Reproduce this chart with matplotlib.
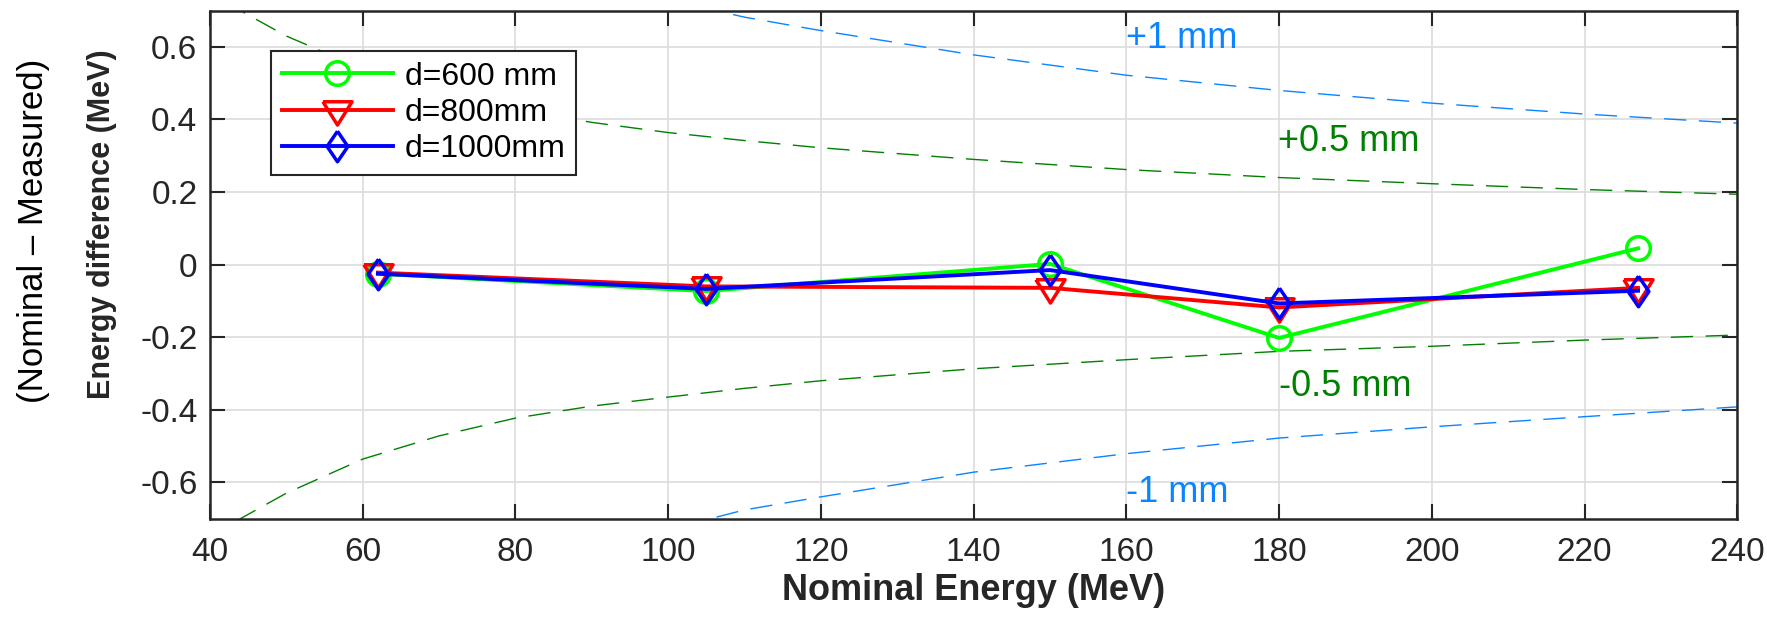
import numpy as np
import matplotlib
matplotlib.use("Agg")
from matplotlib import pyplot as plt

plt.rcParams["font.family"] = ["Liberation Sans", "DejaVu Sans"]

# measured points
energy = [62, 105, 150, 180, 227]
diff_600 = [-0.025, -0.073, 0.002, -0.202, 0.045]
diff_800 = [-0.022, -0.060, -0.064, -0.118, -0.064]
diff_1000 = [-0.025, -0.067, -0.015, -0.107, -0.072]

# reference bands (+/-0.5 mm and +/-1 mm range error)
band_e = [40, 44, 50, 60, 70, 80, 90, 100, 110, 120, 140, 160, 180, 200, 220, 240]
plus_half = [0.78, 0.70, 0.63, 0.54, 0.477, 0.428, 0.392, 0.364, 0.342, 0.322, 0.290, 0.262, 0.240, 0.223, 0.207, 0.194]
minus_half = [-0.77, -0.70, -0.63, -0.536, -0.472, -0.423, -0.390, -0.365, -0.341, -0.320, -0.287, -0.262, -0.239, -0.225, -0.208, -0.194]
plus_one = [1.56, 1.40, 1.26, 1.08, 0.955, 0.86, 0.79, 0.73, 0.682, 0.645, 0.578, 0.522, 0.480, 0.445, 0.415, 0.390]
minus_one = [-1.54, -1.40, -1.26, -1.07, -0.95, -0.86, -0.79, -0.73, -0.676, -0.640, -0.572, -0.521, -0.478, -0.447, -0.419, -0.392]

xticks = [40, 60, 80, 100, 120, 140, 160, 180, 200, 220, 240]
yticks = [-0.6, -0.4, -0.2, 0, 0.2, 0.4, 0.6]
ytick_labels = ["-0.6", "-0.4", "-0.2", "0", "0.2", "0.4", "0.6"]

dark = "#262626"
band_green = "#008000"
band_blue = "#0A84FF"

# MATLAB-like wide down triangle
tri = [(-1, 0.6), (1, 0.6), (0, -1.0), (-1, 0.6)]
# MATLAB-like diamond (a bit wider than matplotlib's thin one)
dia = [(0, 1), (0.68, 0), (0, -1), (-0.68, 0), (0, 1)]

fig = plt.figure(figsize=(17.67, 6.18), dpi=100)
ax = fig.add_axes([0.1188, 0.1608, 0.8644, 0.822])

dash = (0, (16, 9))
ax.plot(band_e, plus_one, color=band_blue, lw=1.0, ls=dash)
ax.plot(band_e, minus_one, color=band_blue, lw=1.0, ls=dash)
ax.plot(band_e, plus_half, color=band_green, lw=1.0, ls=dash)
ax.plot(band_e, minus_half, color=band_green, lw=1.0, ls=dash)

ax.text(160.0, 0.623, "+1 mm", color=band_blue, fontsize=26, va="center", ha="left")
ax.text(179.9, 0.340, "+0.5 mm", color=band_green, fontsize=26, va="center", ha="left")
ax.text(180.0, -0.336, "-0.5 mm", color=band_green, fontsize=26, va="center", ha="left")
ax.text(160.0, -0.629, "-1 mm", color=band_blue, fontsize=26, va="center", ha="left")

ax.plot(energy, diff_600, color="#00FF00", lw=2.8, marker="o", ms=17, mfc="none", mew=2.5, label="d=600 mm")
ax.plot(energy, diff_800, color="#FF0000", lw=2.8, marker=tri, ms=21, mfc="none", mew=2.5, label="d=800mm")
ax.plot(energy, diff_1000, color="#0000FF", lw=2.8, marker=dia, ms=22, mfc="none", mew=2.5, label="d=1000mm")

ax.set_xlim(40, 240)
ax.set_ylim(-0.7, 0.7)
ax.set_xticks(xticks)
ax.set_yticks(yticks)
ax.set_yticklabels(ytick_labels)
ax.tick_params(direction="in", length=11, width=1.5, top=True, right=True,
               labelsize=24, colors=dark)
ax.tick_params(axis="x", pad=13)
ax.tick_params(axis="y", pad=9)
for s in ax.spines.values():
    s.set_color(dark)
    s.set_linewidth(1.8)
ax.grid(True, color="#dcdcdc", lw=1.2)
ax.set_axisbelow(True)

ax.set_xlabel("Nominal Energy (MeV)", fontsize=26, fontweight="bold", color=dark, labelpad=4)
ax.set_ylabel("Energy difference (MeV)", fontsize=22, fontweight="bold", color=dark)
ax.yaxis.set_label_coords(-0.061, 0.58)
fig.text(0.019, 0.626, "(Nominal \u2013 Measured)", rotation=90, fontsize=25,
         color="black", ha="center", va="center")

leg = ax.legend(loc="upper left", bbox_to_anchor=(0.040, 0.9205), borderaxespad=0,
                fontsize=23, handlelength=3.5, frameon=True, fancybox=False,
                edgecolor=dark, framealpha=1, labelspacing=0.2, borderpad=0.33,
                handletextpad=0.35)
leg.get_frame().set_linewidth(1.5)

fig.savefig("out.png", dpi=100)
